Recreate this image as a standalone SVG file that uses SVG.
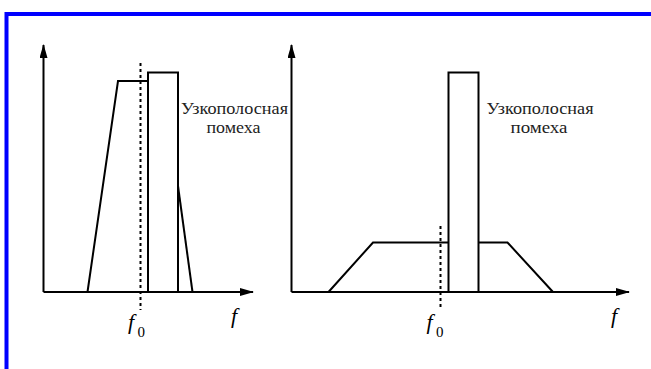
<svg xmlns="http://www.w3.org/2000/svg" width="651" height="369" viewBox="0 0 651 369">
<style>
.ln{fill:none;stroke:#000;stroke-width:2;stroke-linejoin:miter}
.dot{fill:none;stroke:#000;stroke-width:2;stroke-dasharray:3,3}
.lbl{font-size:16px;fill:#222}
.f{font-style:italic;font-size:22px;fill:#000}
.sub{font-size:15px;fill:#000}
</style>
<defs>
<marker id="arr" viewBox="0 0 14 8" refX="13" refY="4" markerWidth="14" markerHeight="8" markerUnits="userSpaceOnUse" orient="auto">
<path d="M0,0 L14,4 L0,8 Z" fill="#000"/>
</marker>
</defs>
<rect width="651" height="369" fill="#fff"/>
<path d="M6.5,369 V14 H651" fill="none" stroke="#0000ff" stroke-width="4"/>
<g id="connectors">
<line class="ln" x1="43.5" y1="292" x2="43.5" y2="45" marker-end="url(#arr)"/>
<line class="ln" x1="43.5" y1="292" x2="253" y2="292" marker-end="url(#arr)"/>
<line class="ln" x1="291.5" y1="292" x2="291.5" y2="45" marker-end="url(#arr)"/>
<line class="ln" x1="291.5" y1="292" x2="629" y2="292" marker-end="url(#arr)"/>
</g>
<g font-family="Liberation Serif, DejaVu Serif, serif">
<g id="left-spectrum">
<polyline class="ln" points="87.5,292 118,81 148,81"/>
<line class="ln" x1="178" y1="186" x2="192.5" y2="292"/>
<line class="dot" x1="140.5" y1="63" x2="140.5" y2="310"/>
</g>
<g id="left-interference">
<polyline class="ln" points="148,292 148,72.5 178,72.5 178,292"/>
<text class="lbl" x="181" y="114" textLength="107" lengthAdjust="spacingAndGlyphs">Узкополосная</text>
<text class="lbl" x="206.5" y="133" textLength="54" lengthAdjust="spacingAndGlyphs">помеха</text>
</g>
<g id="left-labels">
<text class="f" x="128" y="329">f</text>
<text class="sub" x="137.5" y="337">0</text>
<text class="f" x="231" y="323">f</text>
</g>
<g id="right-spectrum">
<polyline class="ln" points="328.5,292 373,242.5 448.5,242.5"/>
<polyline class="ln" points="478.5,242.5 507.5,242.5 553,292"/>
<line class="dot" x1="440.5" y1="226" x2="440.5" y2="308"/>
</g>
<g id="right-interference">
<polyline class="ln" points="448.5,292 448.5,72.5 478.5,72.5 478.5,292"/>
<text class="lbl" x="486.5" y="114" textLength="107" lengthAdjust="spacingAndGlyphs">Узкополосная</text>
<text class="lbl" x="510.5" y="133" textLength="57" lengthAdjust="spacingAndGlyphs">помеха</text>
</g>
<g id="right-labels">
<text class="f" x="426.5" y="329">f</text>
<text class="sub" x="436" y="337">0</text>
<text class="f" x="611" y="323">f</text>
</g>
</g>
</svg>
